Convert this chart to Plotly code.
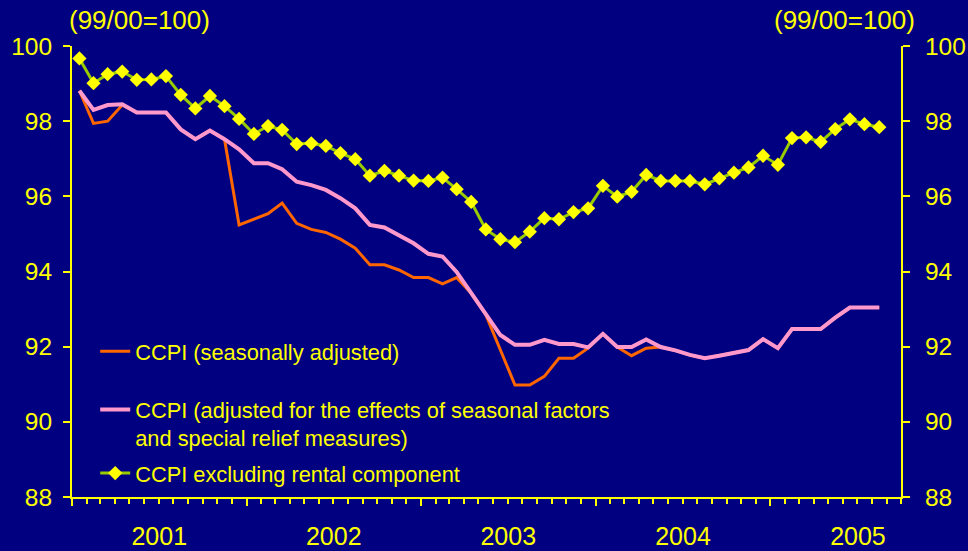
import plotly.graph_objects as go

# ---- data ----
months = [f"{y}-{m:02d}" for y in range(2001, 2006) for m in range(1, 13)][:56]

ccpi_sa = [98.81, 97.94, 98.00, 98.43, 98.23, 98.23, 98.23, 97.78, 97.52, 97.75,
           97.52, 95.24, 95.39, 95.54, 95.82, 95.28, 95.12, 95.04, 94.86, 94.62,
           94.18, 94.18, 94.04, 93.84, 93.84, 93.67, 93.84, 93.42, 92.85, 91.90,
           90.98, 90.98, 91.21, 91.69, 91.69, 91.96, 92.34, 91.99, 91.76, 91.96,
           91.99, 91.90, 91.78, 91.69, 91.76, 91.84, 91.91, 92.20, 91.96, 92.47,
           92.47, 92.47, 92.77, 93.04, 93.04, 93.04]

ccpi_adj = [98.81, 98.30, 98.43, 98.45, 98.23, 98.23, 98.23, 97.78, 97.52, 97.75,
            97.52, 97.25, 96.88, 96.88, 96.72, 96.39, 96.30, 96.17, 95.95, 95.68,
            95.24, 95.17, 94.97, 94.75, 94.47, 94.40, 93.99, 93.42, 92.85, 92.31,
            92.05, 92.05, 92.18, 92.07, 92.07, 91.98, 92.34, 91.99, 91.99, 92.19,
            91.99, 91.90, 91.78, 91.69, 91.76, 91.84, 91.91, 92.20, 91.96, 92.47,
            92.47, 92.47, 92.77, 93.04, 93.04, 93.04]

ccpi_exrent = [99.67, 99.01, 99.25, 99.32, 99.10, 99.11, 99.20, 98.70, 98.34, 98.67,
               98.40, 98.06, 97.66, 97.87, 97.77, 97.39, 97.41, 97.34, 97.15, 96.99,
               96.55, 96.68, 96.55, 96.42, 96.41, 96.50, 96.19, 95.85, 95.12, 94.86,
               94.78, 95.06, 95.42, 95.39, 95.58, 95.68, 96.28, 95.99, 96.12, 96.57,
               96.41, 96.41, 96.41, 96.32, 96.48, 96.63, 96.77, 97.08, 96.84, 97.55,
               97.57, 97.45, 97.79, 98.05, 97.92, 97.84]

y_ticks = [88, 90, 92, 94, 96, 98, 100]
unit_label = "(99/00=100)"

# ---- style ----
BG = "#000080"
YEL = "#FFFF00"
FONT = "Liberation Sans, Arial, sans-serif"

fig = go.Figure()
fig.add_trace(go.Scatter(
    x=months, y=ccpi_sa, name="CCPI (seasonally adjusted)", mode="lines",
    line=dict(color="#FF6600", width=3), showlegend=True,
    xperiod="M1", xperiodalignment="middle", legend="legend", hoverinfo="skip"))
fig.add_trace(go.Scatter(
    x=months, y=ccpi_adj,
    name="CCPI (adjusted for the effects of seasonal factors<br>and special relief measures)",
    mode="lines", line=dict(color="#FF99CC", width=4), showlegend=True,
    xperiod="M1", xperiodalignment="middle", legend="legend2", legendgroup="b",
    hoverinfo="skip"))
fig.add_trace(go.Scatter(
    x=months, y=ccpi_exrent, name="CCPI excluding rental component",
    mode="lines+markers", line=dict(color="#99CC00", width=3), showlegend=True,
    marker=dict(symbol="diamond", size=11, color=YEL),
    xperiod="M1", xperiodalignment="middle", legend="legend2", legendgroup="c",
    yaxis="y2", hoverinfo="skip"))

xrange = ["2001-01-01", "2005-10-01"]
yax = dict(range=[88, 100], tickvals=y_ticks, ticks="outside", ticklen=7, tickwidth=2,
           tickcolor=YEL, showline=True, linecolor=YEL, linewidth=2, showgrid=False,
           zeroline=False, tickfont=dict(color=YEL, size=24.5, family=FONT))

fig.update_layout(
    width=968, height=551,
    showlegend=True,
    paper_bgcolor=BG, plot_bgcolor=BG,
    margin=dict(l=72, r=67, t=46, b=54, autoexpand=False),
    font=dict(family=FONT, color=YEL),
    xaxis=dict(type="date", range=xrange, tick0="2001-01-01", dtick="M12",
               tickformat="%Y", ticklabelmode="period", ticks="outside", ticklen=7,
               tickwidth=2, tickcolor=YEL, showline=True, linecolor=YEL, linewidth=2,
               showgrid=False, zeroline=False, ticklabelstandoff=9,
               tickfont=dict(color=YEL, size=25, family=FONT),
               minor=dict(dtick="M1", ticks="outside", ticklen=5, tickwidth=2,
                          tickcolor=YEL, showgrid=False)),
    xaxis2=dict(type="date", range=xrange, overlaying="x", anchor="y", side="bottom",
                tick0="2001-01-01", dtick="M12", ticks="inside", ticklen=7, tickwidth=2,
                tickcolor=YEL, showticklabels=False, showline=False, showgrid=False,
                zeroline=False),
    yaxis=dict(**yax, side="left", ticklabelstandoff=6),
    yaxis2=dict(**yax, side="right", overlaying="y", anchor="x", ticklabelstandoff=10),
    legend=dict(x=0.028, y=0.369, xanchor="left", yanchor="top", bgcolor="rgba(0,0,0,0)",
                font=dict(color=YEL, size=21.8, family=FONT), valign="top"),
    legend2=dict(x=0.028, y=0.240, xanchor="left", yanchor="top", bgcolor="rgba(0,0,0,0)",
                 font=dict(color=YEL, size=21.8, family=FONT), valign="top",
                 tracegroupgap=4),
    annotations=[
        dict(text=unit_label, xref="paper", yref="paper", x=0.081, y=1.058,
             xanchor="center", yanchor="middle",
             showarrow=False, font=dict(color=YEL, size=26, family=FONT)),
        dict(text=unit_label, xref="paper", yref="paper", x=0.932, y=1.058,
             xanchor="center", yanchor="middle",
             showarrow=False, font=dict(color=YEL, size=26, family=FONT)),
    ],
)

fig.write_html(
    "out.html",
    config={"displayModeBar": False},
    post_script="document.body.style.margin='0px';document.body.style.overflow='hidden';",
)
